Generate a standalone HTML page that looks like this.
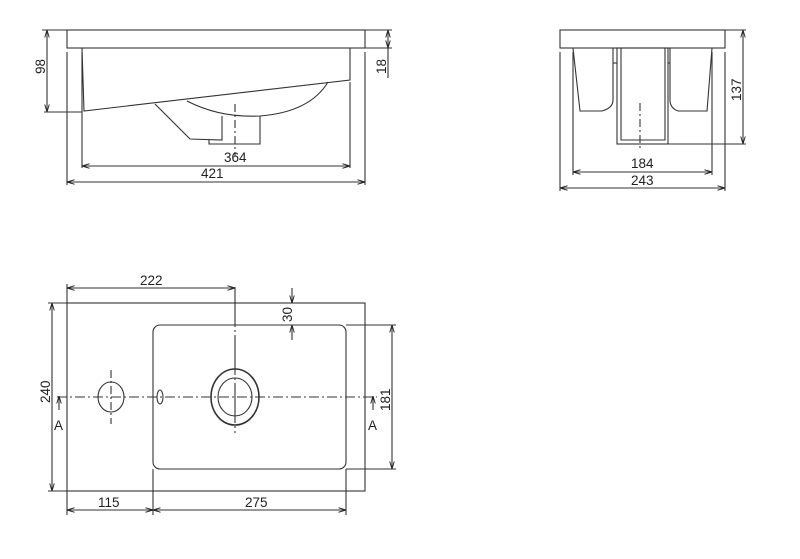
<!DOCTYPE html>
<html><head><meta charset="utf-8"><style>
html,body{margin:0;padding:0;background:#fff;}
svg{display:block;}
text{font-family:"Liberation Sans",Arial,sans-serif;font-size:13.5px;fill:#222;}
</style></head><body>
<svg width="800" height="559" viewBox="0 0 800 559" xmlns="http://www.w3.org/2000/svg">
<defs>
<marker id="a" viewBox="0 0 10 10" refX="10" refY="5" markerWidth="7" markerHeight="7" orient="auto-start-reverse"><path d="M0,2 L10,5 L0,8" fill="none" stroke="#222" stroke-width="1.2"/></marker>
</defs>
<g fill="none" stroke="#333" stroke-width="1.1">
<rect x="67" y="30" width="298" height="18"/>
<path d="M82,48 L84,111 L350,80 L350,48"/>
<path d="M187,101 Q220,118 260,116 Q310,112 328,82"/>
<path d="M155,104 L190,139 L222,140 L222,116"/>
<path d="M260,116 L260,144 L209,144 L209,140"/>
<line x1="235" y1="104" x2="235" y2="156" stroke-dasharray="8,3,2,3"/>
<line x1="47" y1="30" x2="47" y2="112" marker-start="url(#a)" marker-end="url(#a)"/>
<line x1="42" y1="30" x2="67" y2="30"/>
<line x1="44" y1="112" x2="82" y2="112"/>
<line x1="388" y1="30" x2="388" y2="48" marker-start="url(#a)" marker-end="url(#a)"/>
<line x1="388" y1="48" x2="388" y2="78"/>
<line x1="365" y1="30" x2="392" y2="30"/><line x1="365" y1="48" x2="392" y2="48"/>
<line x1="82" y1="52" x2="82" y2="168"/><line x1="350" y1="82" x2="350" y2="168"/>
<line x1="67" y1="52" x2="67" y2="185"/><line x1="365" y1="52" x2="365" y2="185"/>
<line x1="82" y1="166" x2="350" y2="166" marker-start="url(#a)" marker-end="url(#a)"/>
<line x1="67" y1="182" x2="365" y2="182" marker-start="url(#a)" marker-end="url(#a)"/>
<rect x="560" y="30" width="165" height="18"/>
<path d="M573,48 L580,111 L602,111 Q613,108 613,100 L613,48"/>
<path d="M712,48 L707,111 L678,111 Q670,108 670,100 L670,48"/>
<rect x="617" y="48" width="51" height="96"/>
<path d="M621,48 L621,140 L665,140 L665,48"/>
<line x1="613" y1="63" x2="617" y2="63"/><line x1="668" y1="63" x2="670" y2="63"/>
<line x1="640" y1="103" x2="640" y2="150" stroke-dasharray="8,3,2,3"/>
<line x1="743" y1="30" x2="743" y2="144" marker-start="url(#a)" marker-end="url(#a)"/>
<line x1="725" y1="30" x2="746" y2="30"/><line x1="668" y1="144" x2="746" y2="144"/>
<line x1="560" y1="52" x2="560" y2="191"/><line x1="725" y1="52" x2="725" y2="191"/>
<line x1="573" y1="52" x2="573" y2="175"/><line x1="712" y1="52" x2="712" y2="175"/>
<line x1="573" y1="172" x2="712" y2="172" marker-start="url(#a)" marker-end="url(#a)"/>
<line x1="560" y1="188" x2="725" y2="188" marker-start="url(#a)" marker-end="url(#a)"/>
<rect x="67" y="303" width="298" height="188"/>
<rect x="153" y="325" width="193" height="144" rx="7"/>
<line x1="57" y1="397" x2="377" y2="397" stroke-dasharray="10,3,2,3"/>
<ellipse cx="111" cy="397" rx="13" ry="15"/>
<line x1="111" y1="370" x2="111" y2="424" stroke-dasharray="8,3,2,3"/>
<ellipse cx="160" cy="397" rx="3" ry="7"/>
<ellipse cx="235" cy="397" rx="24" ry="28" stroke-width="1.6"/>
<ellipse cx="235" cy="397" rx="17" ry="19"/>
<line x1="235" y1="287" x2="235" y2="433" stroke-dasharray="40,3,2,3"/>
<line x1="67" y1="288" x2="235" y2="288" marker-start="url(#a)" marker-end="url(#a)"/>
<line x1="67" y1="284" x2="67" y2="303"/>
<line x1="292" y1="288" x2="292" y2="303" marker-end="url(#a)"/>
<line x1="292" y1="340" x2="292" y2="325" marker-end="url(#a)"/>
<line x1="392" y1="325" x2="392" y2="469" marker-start="url(#a)" marker-end="url(#a)"/>
<line x1="346" y1="325" x2="396" y2="325"/><line x1="346" y1="469" x2="396" y2="469"/>
<line x1="52" y1="303" x2="52" y2="491" marker-start="url(#a)" marker-end="url(#a)"/>
<line x1="48" y1="303" x2="67" y2="303"/><line x1="48" y1="491" x2="67" y2="491"/>
<line x1="59" y1="410" x2="59" y2="396" marker-end="url(#a)"/>
<line x1="373" y1="410" x2="373" y2="396" marker-end="url(#a)"/>
<line x1="67" y1="491" x2="67" y2="515"/>
<line x1="153" y1="469" x2="153" y2="515"/>
<line x1="346" y1="469" x2="346" y2="515"/>
<line x1="67" y1="510" x2="153" y2="510" marker-start="url(#a)" marker-end="url(#a)"/>
<line x1="153" y1="510" x2="346" y2="510" marker-start="url(#a)" marker-end="url(#a)"/>
</g>
<g>
<text x="224" y="162">364</text>
<text x="201" y="178">421</text>
<text transform="translate(45,74) rotate(-90)">98</text>
<text transform="translate(386,74) rotate(-90)">18</text>
<text x="631" y="168">184</text>
<text x="631" y="185">243</text>
<text transform="translate(741,101) rotate(-90)">137</text>
<text x="140" y="285">222</text>
<text transform="translate(292,322) rotate(-90)">30</text>
<text transform="translate(390,411) rotate(-90)">181</text>
<text transform="translate(50,403) rotate(-90)">240</text>
<text x="54" y="430">A</text>
<text x="368" y="430">A</text>
<text x="98" y="507">115</text>
<text x="245" y="507">275</text>
</g>
</svg>
</body></html>
